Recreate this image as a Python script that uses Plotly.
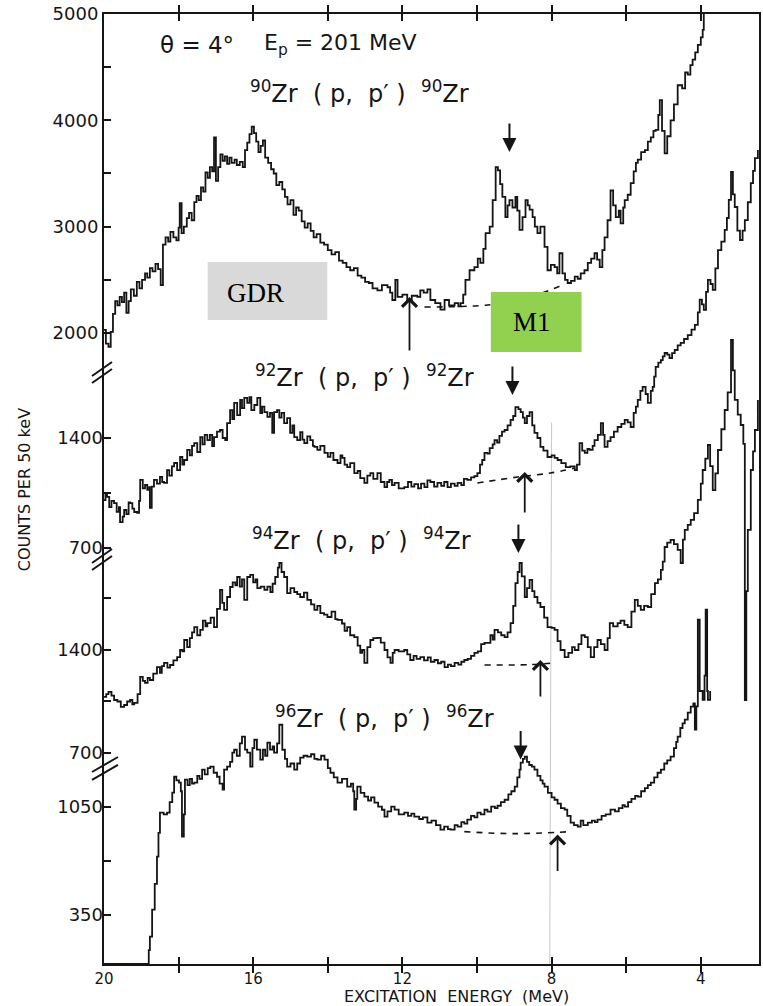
import plotly.graph_objects as go

# ---------------- data ----------------
# 90Zr(p,p')90Zr  -- excitation energy (MeV) and counts per 50 keV
e90 = [20.00, 19.95, 19.88, 19.82, 19.76, 19.70, 19.64, 19.58, 19.52, 19.46, 19.40, 19.34, 19.28, 19.20,
       19.12, 19.05, 18.98, 18.90, 18.84, 18.77, 18.70, 18.62, 18.55, 18.48, 18.42, 18.35, 18.28, 18.22,
       18.14, 18.06, 18.00, 17.97, 17.92, 17.86, 17.78, 17.72, 17.65, 17.58, 17.52, 17.46, 17.40, 17.34,
       17.28, 17.22, 17.16, 17.10, 17.05, 17.00, 16.94, 16.88, 16.82, 16.76, 16.70, 16.64, 16.58, 16.50,
       16.44, 16.36, 16.28, 16.22, 16.16, 16.10, 16.04, 15.98, 15.92, 15.86, 15.80, 15.74, 15.68, 15.60,
       15.52, 15.45, 15.38, 15.30, 15.22, 15.15, 15.08, 15.00, 14.92, 14.85, 14.78, 14.70, 14.62, 14.54,
       14.46, 14.38, 14.30, 14.20, 14.10, 14.00, 13.90, 13.80, 13.70, 13.60, 13.50, 13.40, 13.30, 13.20,
       13.10, 13.00, 12.90, 12.80, 12.67, 12.55, 12.40, 12.33, 12.27, 12.19, 12.13, 12.00, 11.87, 11.75,
       11.60, 11.52, 11.43, 11.33, 11.25, 11.12, 10.98, 10.87, 10.75, 10.60, 10.50, 10.44, 10.37, 10.31,
       10.20, 10.07, 9.98, 9.91, 9.83, 9.77, 9.66, 9.58, 9.50, 9.44, 9.38, 9.32, 9.24, 9.18, 9.13, 9.05,
       8.97, 8.92, 8.86, 8.78, 8.70, 8.64, 8.59, 8.51, 8.45, 8.38, 8.30, 8.19, 8.11, 8.02, 7.92, 7.85,
       7.79, 7.71, 7.64, 7.57, 7.48, 7.38, 7.30, 7.22, 7.12, 7.03, 6.94, 6.85, 6.78, 6.71, 6.64, 6.58,
       6.50, 6.42, 6.35, 6.28, 6.20, 6.15, 6.08, 6.04, 5.96, 5.88, 5.80, 5.74, 5.69, 5.60, 5.50, 5.42,
       5.34, 5.27, 5.21, 5.14, 5.10, 5.04, 4.97, 4.90, 4.81, 4.72, 4.62, 4.50, 4.42, 4.35, 4.28, 4.22,
       4.15, 4.08, 4.00, 3.95, 3.92, 3.80]
c90 = [2030, 1900, 1870, 2010, 2180, 2300, 2260, 2340, 2290, 2380, 2190, 2300, 2410, 2350,
       2480, 2420, 2500, 2560, 2520, 2610, 2580, 2650, 2600, 2450, 2830, 2900, 2860, 2950,
       2900, 2870, 2990, 3220, 2940, 3000, 3080, 3130, 3060, 3230, 3290, 3250, 3370, 3330,
       3510, 3460, 3560, 3520, 3840, 3430, 3560, 3680, 3620, 3660, 3590, 3650, 3600, 3630,
       3580, 3610, 3560, 3720, 3790, 3870, 3940, 3880, 3800, 3700, 3760, 3810, 3650, 3600,
       3540, 3500, 3390, 3420, 3350, 3280, 3210, 3250, 3110, 3180, 3150, 3050, 2990, 3030,
       2960, 2900, 2930, 2850, 2830, 2780, 2740, 2760, 2680, 2660, 2620, 2590, 2610, 2540,
       2520, 2480, 2470, 2420, 2400, 2450, 2430, 2380, 2310, 2500, 2340, 2360, 2310, 2350,
       2340, 2400, 2380, 2410, 2310, 2280, 2220, 2310, 2260, 2280, 2250, 2280, 2360, 2500,
       2590, 2620, 2700, 2660, 2790, 2940, 3000, 3250, 3560, 3530, 3400, 3280, 3090, 3200, 3250, 3180,
       3280, 3150, 2970, 3090, 3250, 3200, 3160, 3090, 3000, 2940, 3000, 2810, 2590, 2640, 2620, 2560,
       2750, 2560, 2500, 2470, 2490, 2530, 2510, 2560, 2590, 2660, 2700, 2750, 2690, 2620, 2780, 2900,
       3060, 3340, 3200, 3090, 3150, 3030, 3180, 3250, 3300, 3410, 3520, 3600, 3630, 3700, 3720, 3800,
       3840, 3900, 3910, 4050, 4190, 3900, 3690, 3850, 4000, 4150, 4330, 4300, 4450, 4430, 4520, 4570,
       4640, 4710, 4780, 4850, 5050, 5300]

# 92Zr(p,p')92Zr
e92 = [20.00, 19.96, 19.92, 19.86, 19.80, 19.73, 19.66, 19.60, 19.57, 19.50, 19.46, 19.40, 19.34, 19.30,
       19.24, 19.19, 19.11, 19.06, 19.03, 18.96, 18.90, 18.84, 18.79, 18.77, 18.72, 18.66, 18.58, 18.50,
       18.44, 18.39, 18.31, 18.25, 18.18, 18.12, 18.04, 17.96, 17.90, 17.85, 17.77, 17.70, 17.64, 17.58,
       17.50, 17.42, 17.36, 17.30, 17.23, 17.16, 17.10, 17.05, 16.97, 16.89, 16.82, 16.75, 16.70, 16.62,
       16.56, 16.51, 16.43, 16.35, 16.30, 16.24, 16.16, 16.10, 16.05, 15.97, 15.89, 15.81, 15.76, 15.70,
       15.62, 15.55, 15.49, 15.44, 15.36, 15.30, 15.24, 15.17, 15.09, 15.01, 14.95, 14.90, 14.82, 14.74,
       14.68, 14.63, 14.55, 14.47, 14.40, 14.36, 14.28, 14.20, 14.09, 14.00, 13.93, 13.85, 13.74, 13.66,
       13.61, 13.55, 13.48, 13.40, 13.29, 13.20, 13.13, 13.02, 12.94, 12.86, 12.78, 12.67, 12.58, 12.48,
       12.41, 12.35, 12.28, 12.21, 12.10, 11.95, 11.85, 11.76, 11.68, 11.58, 11.50, 11.41, 11.33, 11.25,
       11.15, 11.06, 10.96, 10.88, 10.79, 10.70, 10.60, 10.52, 10.42, 10.35, 10.26, 10.16, 10.07, 9.99,
       9.92, 9.86, 9.80, 9.72, 9.66, 9.58, 9.53, 9.46, 9.40, 9.33, 9.26, 9.18, 9.10, 9.03, 8.97, 8.89,
       8.83, 8.77, 8.72, 8.66, 8.59, 8.52, 8.46, 8.38, 8.30, 8.22, 8.11, 8.00, 7.92, 7.84, 7.74, 7.62,
       7.50, 7.38, 7.32, 7.25, 7.18, 7.11, 7.04, 6.98, 6.90, 6.85, 6.76, 6.68, 6.62, 6.58, 6.50, 6.42,
       6.33, 6.23, 6.13, 6.04, 5.96, 5.88, 5.80, 5.74, 5.69, 5.62, 5.56, 5.48, 5.42, 5.34, 5.29, 5.25,
       5.21, 5.14, 5.07, 5.02, 4.97, 4.90, 4.84, 4.77, 4.70, 4.62, 4.54, 4.45, 4.35, 4.25, 4.16, 4.08,
       4.03, 3.97, 3.92, 3.86, 3.81, 3.74, 3.68, 3.61, 3.54, 3.45, 3.36, 3.30, 3.25, 3.19, 3.14, 3.09,
       3.02, 2.95, 2.88, 2.82, 2.74, 2.66, 2.60, 2.55, 2.47]
c92 = [1005, 1040, 1025, 960, 1000, 986, 930, 960, 865, 900, 942, 915, 990, 986,
       950, 929, 923, 1000, 1133, 1080, 1101, 1070, 1088, 955, 1090, 1133, 1110, 1152,
       1120, 1114, 1196, 1160, 1220, 1241, 1196, 1279, 1230, 1260, 1324, 1290, 1350, 1368,
       1311, 1406, 1360, 1420, 1387, 1420, 1349, 1406, 1440, 1451, 1400, 1387, 1495, 1578,
       1520, 1623, 1546, 1642, 1590, 1655, 1623, 1660, 1578, 1610, 1655, 1559, 1600, 1565,
       1534, 1560, 1432, 1565, 1578, 1530, 1560, 1495, 1527, 1432, 1480, 1406, 1387, 1438,
       1390, 1368, 1410, 1387, 1350, 1343, 1324, 1350, 1305, 1280, 1305, 1260, 1241, 1290,
       1273, 1230, 1215, 1240, 1177, 1190, 1145, 1114, 1160, 1177, 1140, 1177, 1120, 1088,
       1120, 1133, 1100, 1114, 1080, 1088, 1120, 1090, 1107, 1080, 1110, 1088, 1130, 1120,
       1090, 1114, 1095, 1120, 1088, 1110, 1095, 1114, 1100, 1140, 1133, 1150, 1158, 1177,
       1230, 1260, 1305, 1300, 1336, 1360, 1387, 1370, 1413, 1440, 1451, 1480, 1515, 1540, 1597, 1584,
       1565, 1530, 1495, 1540, 1565, 1480, 1432, 1400, 1343, 1320, 1279, 1290, 1273, 1260, 1240, 1215,
       1220, 1196, 1230, 1368, 1320, 1305, 1330, 1324, 1350, 1387, 1420, 1495, 1420, 1343, 1380, 1406,
       1440, 1470, 1490, 1515, 1500, 1470, 1560, 1600, 1642, 1700, 1725, 1680, 1623, 1700, 1725, 1790,
       1852, 1880, 1896, 1920, 1941, 1930, 1909, 1940, 1960, 1990, 2005, 2030, 2055, 2090, 2120, 2200,
       2280, 2250, 2215, 2330, 2406, 2380, 2342, 2480, 2596, 2650, 2724, 2800, 2915, 3093, 2950, 2870,
       2720, 2660, 2720, 2787, 2900, 3022, 3100, 3181, 3232]

# 94Zr(p,p')94Zr
e94 = [20.00, 19.94, 19.88, 19.80, 19.73, 19.64, 19.55, 19.46, 19.38, 19.30, 19.24, 19.19, 19.10, 19.03,
       18.96, 18.90, 18.83, 18.77, 18.68, 18.58, 18.50, 18.45, 18.39, 18.30, 18.23, 18.14, 18.04, 17.96,
       17.90, 17.85, 17.77, 17.70, 17.64, 17.58, 17.50, 17.42, 17.35, 17.28, 17.23, 17.14, 17.05, 16.97,
       16.89, 16.83, 16.78, 16.70, 16.62, 16.55, 16.48, 16.43, 16.36, 16.30, 16.24, 16.16, 16.08, 16.00,
       15.94, 15.89, 15.80, 15.70, 15.62, 15.54, 15.48, 15.41, 15.34, 15.30, 15.24, 15.17, 15.09, 15.00,
       14.90, 14.82, 14.74, 14.64, 14.55, 14.45, 14.36, 14.28, 14.20, 14.10, 14.01, 13.90, 13.80, 13.74,
       13.62, 13.55, 13.48, 13.40, 13.29, 13.20, 13.13, 13.08, 13.02, 12.94, 12.86, 12.78, 12.67, 12.58,
       12.48, 12.40, 12.32, 12.26, 12.21, 12.10, 11.95, 11.87, 11.79, 11.70, 11.62, 11.52, 11.42, 11.32,
       11.24, 11.14, 11.05, 10.96, 10.87, 10.78, 10.70, 10.60, 10.50, 10.42, 10.34, 10.25, 10.16, 10.07,
       9.98, 9.89, 9.80, 9.72, 9.64, 9.58, 9.53, 9.44, 9.35, 9.26, 9.18, 9.10, 9.03, 8.97, 8.91, 8.86,
       8.80, 8.72, 8.66, 8.59, 8.52, 8.46, 8.38, 8.30, 8.20, 8.11, 8.00, 7.92, 7.84, 7.76, 7.65, 7.55,
       7.45, 7.38, 7.28, 7.20, 7.11, 7.03, 6.95, 6.86, 6.77, 6.68, 6.58, 6.50, 6.44, 6.35, 6.23, 6.15,
       6.05, 5.96, 5.86, 5.77, 5.69, 5.61, 5.52, 5.42, 5.33, 5.23, 5.15, 5.07, 5.02, 4.97, 4.90, 4.81,
       4.72, 4.62, 4.54, 4.48, 4.43, 4.35, 4.27, 4.18, 4.08, 4.00, 3.95, 3.88, 3.81, 3.75, 3.68, 3.61,
       3.54, 3.45, 3.36, 3.28, 3.19, 3.14, 3.09, 3.01, 2.93, 2.86, 2.82, 2.78, 2.74, 2.66, 2.60, 2.55,
       2.47]
c94 = [1081, 1100, 1115, 1090, 1060, 1050, 1013, 1026, 1050, 1060, 1030, 1040, 1100, 1217,
       1190, 1176, 1210, 1196, 1240, 1284, 1244, 1290, 1312, 1280, 1298, 1330, 1352, 1400,
       1390, 1468, 1420, 1480, 1520, 1556, 1500, 1536, 1600, 1560, 1583, 1620, 1556, 1680,
       1808, 1720, 1672, 1760, 1828, 1860, 1840, 1896, 1830, 1880, 1740, 1896, 1910, 1860,
       1880, 1821, 1830, 1808, 1830, 1794, 1850, 1896, 1960, 1991, 1930, 1896, 1787, 1820,
       1794, 1780, 1760, 1790, 1740, 1710, 1672, 1700, 1651, 1640, 1624, 1660, 1610, 1604,
       1580, 1530, 1556, 1500, 1488, 1430, 1380, 1400, 1312, 1420, 1468, 1480, 1482, 1450,
       1400, 1350, 1312, 1380, 1400, 1390, 1400, 1370, 1332, 1360, 1340, 1352, 1330, 1350,
       1320, 1332, 1310, 1320, 1284, 1300, 1290, 1312, 1300, 1320, 1332, 1340, 1360, 1380,
       1390, 1440, 1448, 1448, 1500, 1470, 1536, 1520, 1500, 1488, 1520, 1583, 1700, 1855, 1930, 1991,
       1900, 1760, 1820, 1876, 1800, 1760, 1720, 1692, 1620, 1556, 1550, 1536, 1460, 1400, 1352, 1380,
       1420, 1400, 1440, 1500, 1488, 1420, 1352, 1420, 1468, 1440, 1400, 1480, 1583, 1560, 1583, 1600,
       1570, 1556, 1660, 1740, 1700, 1672, 1700, 1692, 1780, 1855, 1880, 1944, 2000, 2100, 2130, 2148,
       2120, 2080, 1991, 2150, 2216, 2250, 2284, 2330, 2420, 2530, 2623, 2700, 2793, 2650, 2487, 2600,
       2759, 2900, 3031, 3150, 3507, 3300, 3099, 3000, 2929, 2800, 1060, 1800, 2216, 2623, 2750, 2895,
       3099]

# 96Zr(p,p')96Zr
e96 = [20.00, 18.85, 18.80, 18.77, 18.71, 18.64, 18.58, 18.54, 18.50, 18.40, 18.31, 18.24, 18.17, 18.12,
       18.06, 17.99, 17.94, 17.91, 17.86, 17.83, 17.76, 17.70, 17.64, 17.58, 17.50, 17.44, 17.37, 17.30,
       17.22, 17.15, 17.06, 16.97, 16.90, 16.82, 16.78, 16.70, 16.62, 16.56, 16.51, 16.44, 16.36, 16.30,
       16.22, 16.16, 16.08, 16.02, 15.97, 15.90, 15.81, 15.74, 15.68, 15.62, 15.55, 15.48, 15.44, 15.36,
       15.30, 15.22, 15.15, 15.09, 15.00, 14.90, 14.82, 14.74, 14.65, 14.55, 14.45, 14.36, 14.28, 14.18,
       14.09, 14.00, 13.93, 13.84, 13.74, 13.62, 13.48, 13.38, 13.32, 13.29, 13.24, 13.21, 13.12, 13.02,
       12.92, 12.84, 12.75, 12.65, 12.55, 12.48, 12.40, 12.30, 12.21, 12.10, 11.95, 11.85, 11.76, 11.68,
       11.55, 11.45, 11.33, 11.22, 11.10, 10.98, 10.88, 10.78, 10.71, 10.60, 10.52, 10.42, 10.34, 10.26,
       10.16, 10.07, 9.99, 9.90, 9.80, 9.72, 9.62, 9.52, 9.45, 9.36, 9.26, 9.16, 9.08, 8.99, 8.92, 8.86,
       8.83, 8.77, 8.72, 8.66, 8.60, 8.53, 8.46, 8.38, 8.30, 8.24, 8.19, 8.10, 8.00, 7.92, 7.84, 7.75,
       7.65, 7.58, 7.49, 7.40, 7.30, 7.22, 7.15, 7.03, 6.92, 6.84, 6.77, 6.66, 6.55, 6.42, 6.30, 6.20,
       6.10, 6.04, 5.95, 5.86, 5.76, 5.69, 5.60, 5.50, 5.42, 5.34, 5.25, 5.16, 5.07, 4.98, 4.90, 4.81,
       4.72, 4.66, 4.62, 4.55, 4.49, 4.43, 4.35, 4.27, 4.20, 4.16, 4.12, 4.08, 4.03, 3.95, 3.90, 3.87,
       3.83, 3.81, 3.75]
c96 = [30, 30, 120, 207, 382, 550, 726, 880, 1011, 1000, 1011, 1080, 1141, 1244,
       1220, 1206, 1150, 856, 1000, 1225, 1190, 1230, 1200, 1206, 1250, 1230, 1290, 1260,
       1300, 1309, 1270, 1244, 1200, 1160, 1290, 1309, 1340, 1400, 1419, 1380, 1460, 1504,
       1420, 1400, 1309, 1430, 1484, 1420, 1355, 1420, 1380, 1465, 1420, 1440, 1400, 1460,
       1581, 1419, 1360, 1309, 1330, 1290, 1330, 1368, 1380, 1374, 1390, 1360, 1355, 1380,
       1355, 1300, 1270, 1240, 1206, 1230, 1180, 1200, 1150, 1031, 1100, 1180, 1140, 1115,
       1090, 1110, 1076, 1050, 1030, 985, 1020, 1050, 1031, 1000, 1011, 990, 1005, 985,
       970, 980, 946, 960, 930, 901, 920, 905, 901, 930, 920, 950, 940, 966,
       990, 980, 1011, 1000, 1030, 1018, 1050, 1040, 1056, 1080, 1095, 1130, 1150, 1180, 1240, 1290,
       1335, 1360, 1374, 1340, 1320, 1310, 1290, 1250, 1220, 1200, 1180, 1140, 1110, 1095, 1070, 1040,
       1031, 990, 946, 930, 920, 960, 930, 946, 960, 950, 966, 990, 1000, 1031, 1020, 1040,
       1060, 1050, 1080, 1100, 1120, 1115, 1150, 1170, 1190, 1206, 1240, 1270, 1290, 1330, 1350, 1374,
       1430, 1470, 1504, 1560, 1590, 1614, 1660, 1698, 1720, 1549, 1700, 2262, 1800, 1743, 1900, 2327,
       1800, 1743, 1800]

# dashed background estimates under the M1 peaks
bg90_e = [11.41, 9.72, 8.65, 7.71]
bg90_c = [2244, 2263, 2329, 2451]
bg92_e = [9.99, 8.91, 8.03, 7.38]
bg92_c = [1114, 1152, 1177, 1209]
bg94_e = [9.80, 8.60, 7.92]
bg94_c = [1298, 1300, 1312]
bg96_e = [10.34, 9.00, 7.49]
bg96_c = [888, 875, 888]

# arrow positions (E, counts): down = M1 peak, up = background point
down_arrows = [(9.13, 3702, "y"), (9.05, 1674, "y2"), (8.89, 2059, "y3"), (8.83, 1355, "y4")]
up_arrows = [(11.81, 2338, "y", 55), (8.72, 1184, "y2", 42), (8.30, 1332, "y3", 38), (7.84, 869, "y4", 38)]

x_ticks = [20, 18, 16, 14, 12, 10, 8, 6, 4]
x_ticktext = ["20", "", "16", "", "12", "", "8", "", "4"]

# ---------------- figure ----------------
FONT = "DejaVu Sans"
INK = "#151515"

fig = go.Figure()

def spectrum(e, c, yax):
    fig.add_trace(go.Scatter(x=e, y=c, mode="lines", line=dict(color=INK, width=1.8, shape="hv"),
                             yaxis=yax, showlegend=False, hoverinfo="skip"))

def background(e, c, yax):
    fig.add_trace(go.Scatter(x=e, y=c, mode="lines", line=dict(color=INK, width=1.6, dash="6px,6px",
                             shape="spline"), yaxis=yax, showlegend=False, hoverinfo="skip"))

spectrum(e90, c90, "y")
spectrum(e92, c92, "y2")
spectrum(e94, c94, "y3")
spectrum(e96, c96, "y4")
background(bg90_e, bg90_c, "y")
background(bg92_e, bg92_c, "y2")
background(bg94_e, bg94_c, "y3")
background(bg96_e, bg96_c, "y4")

tickfont = dict(family=FONT, size=18, color=INK)
common_y = dict(domain=[0, 1], showgrid=False, zeroline=False, ticks="inside", ticklen=7,
                tickwidth=2, tickcolor=INK, tickfont=tickfont, fixedrange=True)

fig.update_layout(
    width=763, height=1006,
    margin=dict(l=104, r=2, t=14, b=42),
    paper_bgcolor="white", plot_bgcolor="white",
    xaxis=dict(range=[20, 2.44], tickvals=x_ticks, ticktext=x_ticktext, ticks="inside", ticklen=7,
               tickwidth=2, tickcolor=INK, showline=True, linewidth=2, linecolor=INK, mirror="allticks",
               showgrid=False, zeroline=False, tickfont=dict(family=FONT, size=15, color=INK)),
    yaxis=dict(range=[-3935, 5000], tickvals=[5000, 4500, 4000, 3500, 3000, 2500, 2000],
               ticktext=["5000", "", "4000", "", "3000", "", "2000"], showline=True, linewidth=2,
               linecolor=INK, mirror=True, **common_y),
    yaxis2=dict(range=[-1947, 4098], tickvals=[1400, 1050, 700], ticktext=["1400", "", "700"],
                overlaying="y", anchor="x", side="left", showline=False, **common_y),
    yaxis3=dict(range=[-734, 5722], tickvals=[1750, 1400, 1050, 700], ticktext=["", "1400", "", "700"],
                overlaying="y", anchor="x", side="left", showline=False, **common_y),
    yaxis4=dict(range=[30, 6189], tickvals=[1050, 700, 350], ticktext=["1050", "", "350"],
                overlaying="y", anchor="x", side="left", showline=False, **common_y),
)

# axis-break marks on the left axis
for (y0, y1) in [(0.6116, 0.6263), (0.6189, 0.6337), (0.4147, 0.4295), (0.4221, 0.4368)]:
    fig.add_shape(type="line", xref="paper", yref="paper", x0=-0.0183, x1=0.0122, y0=y0, y1=y1,
                  line=dict(color=INK, width=2))
for (y0, y1) in [(0.1937, 0.2095), (0.2021, 0.2179)]:
    fig.add_shape(type="line", xref="paper", yref="paper", x0=-0.0183, x1=0.0213, y0=y0, y1=y1,
                  line=dict(color=INK, width=2))

# faint vertical guide line near 8 MeV
fig.add_shape(type="line", xref="x", yref="paper", x0=8.05, x1=8.0, y0=0.0, y1=0.57,
              line=dict(color="#c8c8c8", width=1), layer="below")

# GDR and M1 boxes
fig.add_shape(type="rect", xref="paper", yref="paper", x0=0.1583, x1=0.3409, y0=0.6779, y1=0.7389,
              fillcolor="#d9d9d9", line=dict(width=0), layer="above")
fig.add_shape(type="rect", xref="paper", yref="paper", x0=0.5906, x1=0.7291, y0=0.6442, y1=0.7074,
              fillcolor="#92d050", line=dict(width=0), layer="above")

ann = []
serif = dict(family="Liberation Serif", size=27, color="black")
ann.append(dict(text="GDR", x=0.2314, y=0.7063, xref="paper", yref="paper", xanchor="center",
                yanchor="middle", showarrow=False, font=serif))
ann.append(dict(text="M1", x=0.653, y=0.6758, xref="paper", yref="paper", xanchor="center",
                yanchor="middle", showarrow=False, font=serif))

ann.append(dict(text="θ = 4°", x=0.1416, y=0.9674, xref="paper", yref="paper", xanchor="center",
                yanchor="middle", showarrow=False, font=dict(family=FONT, size=23, color=INK)))
ann.append(dict(text="E<sub>p</sub> = 201 MeV", x=0.2405, y=0.9674, xref="paper", yref="paper",
                xanchor="left", yanchor="middle", showarrow=False, font=dict(family=FONT, size=22, color=INK)))

lab = dict(family=FONT, size=24, color=INK)
for iso, xp, yp in [("90", 0.3896, 0.9179), ("92", 0.3973, 0.6189), ("94", 0.3927, 0.4474),
                    ("96", 0.4277, 0.2600)]:
    ann.append(dict(text=f"<sup>{iso}</sup>Zr  ( p,  p′ )  <sup>{iso}</sup>Zr", x=xp, y=yp, xref="paper",
                    yref="paper", xanchor="center", yanchor="middle", showarrow=False, font=lab))

ann.append(dict(text="COUNTS PER 50 keV", x=-0.1218, y=0.4989, xref="paper", yref="paper", textangle=-90,
                xanchor="center", yanchor="middle", showarrow=False,
                font=dict(family=FONT, size=16, color=INK)))
ann.append(dict(text="EXCITATION  ENERGY  (MeV)", x=0.5388, y=-0.0337, xref="paper", yref="paper",
                xanchor="center", yanchor="middle", showarrow=False,
                font=dict(family=FONT, size=16, color=INK)))

for (e, c, yr) in down_arrows:
    ann.append(dict(x=e, y=c, xref="x", yref=yr, text="", showarrow=True, ax=0, ay=-30,
                    arrowhead=2, arrowsize=1.4, arrowwidth=2, arrowcolor=INK, standoff=0))
for (e, c, yr, length) in up_arrows:
    ann.append(dict(x=e, y=c, xref="x", yref=yr, text="", showarrow=True, ax=0, ay=length,
                    arrowhead=4, arrowsize=1.6, arrowwidth=1.8, arrowcolor=INK, standoff=0))

fig.update_layout(annotations=ann)

fig.write_html("out.html")
